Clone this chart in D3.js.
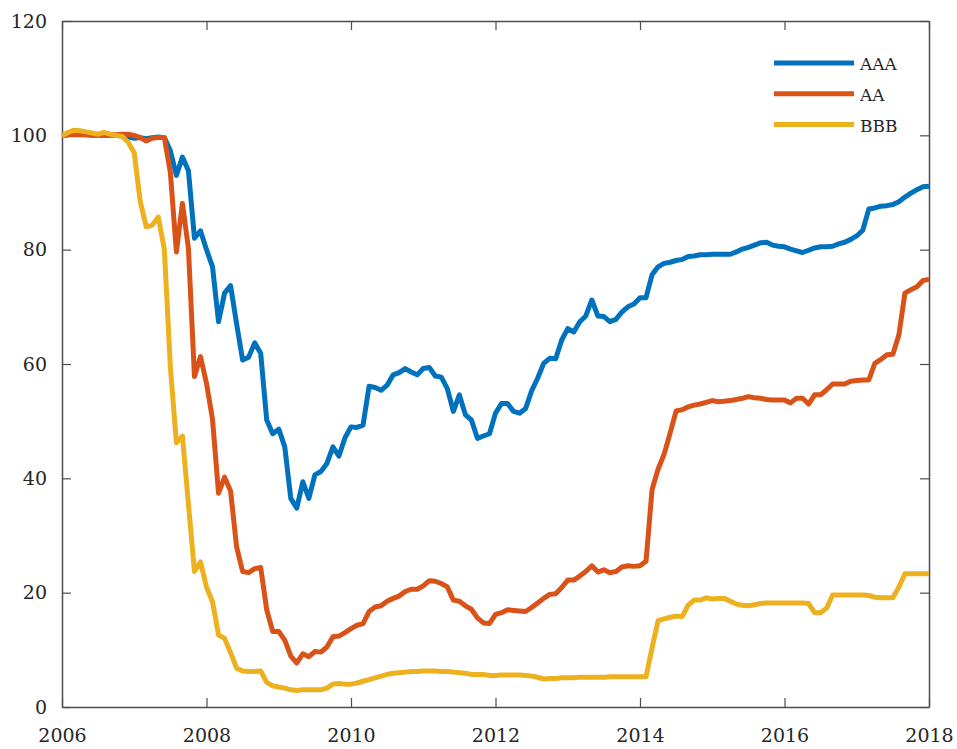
<!DOCTYPE html>
<html>
<head>
<meta charset="utf-8">
<script src="https://cdn.jsdelivr.net/npm/d3@7"></script>
<style>
	body { margin: 0; background: #fff; }
	svg { display: block; }
</style>
</head>
<body>
<svg width="957" height="749"></svg>
<script>
// monthly index values, Jan 2006 .. Jan 2018
const startYear = 2006;
const aaa = [
	99.9, 100.1, 100.2, 100.2, 100.1, 100.0, 100.0, 100.0, 100.0, 100.0, 99.9, 99.7,
	99.5, 99.6, 99.4, 99.6, 99.7, 99.6, 97.3, 93.0, 96.2, 93.8, 82.0, 83.3,
	80.0, 77.0, 67.4, 72.4, 73.7, 67.0, 60.7, 61.2, 63.7, 61.9, 50.2, 47.8,
	48.6, 45.5, 36.5, 34.8, 39.4, 36.5, 40.6, 41.2, 42.6, 45.5, 43.9, 47.1,
	49.0, 48.9, 49.3, 56.1, 55.9, 55.4, 56.3, 58.1, 58.5, 59.2, 58.6, 58.1,
	59.2, 59.4, 57.9, 57.7, 55.7, 51.7, 54.6, 51.1, 50.2, 47.0, 47.4, 47.8,
	51.4, 53.1, 53.1, 51.7, 51.4, 52.2, 55.3, 57.5, 60.1, 61.0, 60.9, 64.2,
	66.2, 65.6, 67.4, 68.4, 71.2, 68.4, 68.3, 67.4, 67.8, 69.1, 70.0, 70.5,
	71.6, 71.6, 75.6, 77.0, 77.6, 77.8, 78.1, 78.3, 78.8, 78.9, 79.1, 79.1,
	79.2, 79.2, 79.2, 79.2, 79.6, 80.1, 80.4, 80.8, 81.2, 81.3, 80.8, 80.6,
	80.5, 80.1, 79.8, 79.5, 79.9, 80.3, 80.5, 80.5, 80.6, 81.0, 81.3, 81.8,
	82.4, 83.4, 87.1, 87.3, 87.6, 87.7, 87.9, 88.4, 89.2, 89.9, 90.5, 91.0,
	91.1
];
const aa = [
	100.0, 100.1, 100.1, 100.1, 100.1, 100.1, 100.1, 100.1, 100.1, 100.1, 100.2, 100.2,
	100.0, 99.6, 99.0, 99.5, 99.6, 99.6, 93.5, 79.6, 88.1, 80.2, 57.8, 61.3,
	56.6, 50.3, 37.4, 40.2, 37.8, 28.0, 23.7, 23.5, 24.2, 24.4, 17.0, 13.2,
	13.2, 11.7, 8.9, 7.7, 9.3, 8.8, 9.7, 9.6, 10.5, 12.3, 12.4, 13.0,
	13.7, 14.3, 14.6, 16.7, 17.5, 17.7, 18.5, 19.0, 19.4, 20.2, 20.6, 20.6,
	21.2, 22.1, 22.0, 21.6, 21.0, 18.7, 18.5, 17.7, 17.1, 15.6, 14.7, 14.6,
	16.2, 16.5, 17.0, 16.9, 16.8, 16.7, 17.4, 18.2, 19.0, 19.7, 19.8, 20.9,
	22.2, 22.2, 22.9, 23.7, 24.7, 23.6, 24.0, 23.5, 23.7, 24.5, 24.7, 24.6,
	24.7, 25.5, 38.0, 41.6, 44.2, 47.9, 51.8, 52.0, 52.5, 52.8, 53.0, 53.3,
	53.6, 53.4, 53.5, 53.6, 53.8, 54.0, 54.3, 54.1, 54.0, 53.8, 53.7, 53.7,
	53.7, 53.2, 54.0, 54.0, 53.0, 54.6, 54.6, 55.5, 56.5, 56.5, 56.5, 57.0,
	57.1, 57.2, 57.2, 60.1, 60.8, 61.6, 61.7, 65.1, 72.4, 73.0, 73.5, 74.6,
	74.8
];
const bbb = [
	99.9, 100.5, 100.9, 100.8, 100.6, 100.4, 100.2, 100.5, 100.2, 100.0, 99.8, 98.8,
	96.9, 88.4, 84.0, 84.3, 85.7, 80.0, 59.5, 46.2, 47.4, 35.5, 23.7, 25.4,
	21.0, 18.4, 12.6, 12.0, 9.5, 6.8, 6.3, 6.2, 6.2, 6.3, 4.3, 3.7,
	3.5, 3.3, 3.0, 2.9, 3.0, 3.0, 3.0, 3.0, 3.3, 4.0, 4.1, 4.0,
	4.0, 4.2, 4.5, 4.8, 5.1, 5.4, 5.7, 5.9, 6.0, 6.1, 6.2, 6.2,
	6.3, 6.3, 6.3, 6.2, 6.2, 6.1, 6.0, 5.9, 5.7, 5.7, 5.7, 5.5,
	5.5, 5.6, 5.6, 5.6, 5.6, 5.5, 5.4, 5.2, 4.9, 5.0, 5.0, 5.1,
	5.1, 5.1, 5.2, 5.2, 5.2, 5.2, 5.2, 5.3, 5.3, 5.3, 5.3, 5.3,
	5.3, 5.3, 10.3, 15.1, 15.4, 15.7, 15.9, 15.8, 17.8, 18.7, 18.7, 19.1,
	18.9, 19.0, 19.0, 18.5, 18.0, 17.8, 17.7, 17.9, 18.1, 18.2, 18.2, 18.2,
	18.2, 18.2, 18.2, 18.2, 18.1, 16.5, 16.5, 17.3, 19.6, 19.6, 19.6, 19.6,
	19.6, 19.6, 19.5, 19.2, 19.1, 19.1, 19.1, 21.0, 23.3, 23.3, 23.3, 23.3,
	23.3
];
const seriesNames = ["AAA", "AA", "BBB"];
const seriesColors = ["#0072BD", "#D95319", "#EDB120"];
const xTicks = [2006, 2008, 2010, 2012, 2014, 2016, 2018];
const yTicks = [0, 20, 40, 60, 80, 100, 120];

const series = [aaa, aa, bbb].map((vals, i) => ({
	name: seriesNames[i],
	color: seriesColors[i],
	values: vals.map((v, m) => ({ t: startYear + m / 12, v }))
}));

const svg = d3.select("svg");
const margin = { left: 62, right: 28, top: 21, bottom: 42 };
const width = 957 - margin.left - margin.right;
const height = 749 - margin.top - margin.bottom;

const x = d3.scaleLinear().domain([2006, 2018]).range([0, width]);
const y = d3.scaleLinear().domain([0, 120]).range([height, 0]);

const g = svg.append("g").attr("transform", `translate(${margin.left},${margin.top})`);

const tickLen = 9;
const axisColor = "#4d4d4d";
const labelFont = "DejaVu Serif";

// bottom + left axes with labels, ticks pointing inward
const xAxis = g.append("g")
	.attr("transform", `translate(0,${height})`)
	.call(d3.axisBottom(x).tickValues(xTicks).tickFormat(d3.format("d")).tickSizeInner(-tickLen).tickSizeOuter(0).tickPadding(22));
const yAxis = g.append("g")
	.call(d3.axisLeft(y).tickValues(yTicks).tickSizeInner(-tickLen).tickSizeOuter(0).tickPadding(15));
// top + right axes, ticks only
const xTop = g.append("g")
	.call(d3.axisTop(x).tickValues(xTicks).tickFormat("").tickSizeInner(-tickLen).tickSizeOuter(0));
const yRight = g.append("g")
	.attr("transform", `translate(${width},0)`)
	.call(d3.axisRight(y).tickValues(yTicks).tickFormat("").tickSizeInner(-tickLen).tickSizeOuter(0));

[xAxis, yAxis, xTop, yRight].forEach(a => {
	a.attr("font-family", labelFont).attr("font-size", 19);
	a.selectAll("path.domain").attr("stroke", axisColor).attr("stroke-width", 1.5);
	a.selectAll(".tick line").attr("stroke", axisColor).attr("stroke-width", 1.2);
	a.selectAll(".tick text").attr("fill", "#262626");
});
xAxis.selectAll(".tick text").attr("dy", "0.71em");

const line = d3.line()
	.x(d => x(d.t))
	.y(d => y(d.v));

g.append("g")
	.selectAll("path")
	.data(series)
	.join("path")
	.attr("fill", "none")
	.attr("stroke", d => d.color)
	.attr("stroke-width", 5)
	.attr("stroke-linejoin", "round")
	.attr("d", d => line(d.values));

// legend
const legend = g.append("g")
	.attr("transform", `translate(${712},${42})`);

const item = legend.selectAll("g")
	.data(series)
	.join("g")
	.attr("transform", (d, i) => `translate(0,${i * 30.8})`);

item.append("line")
	.attr("x1", 0)
	.attr("x2", 80)
	.attr("stroke", d => d.color)
	.attr("stroke-width", 5);

item.append("text")
	.attr("x", 86)
	.attr("y", 7)
	.attr("font-family", "DejaVu Serif")
	.attr("font-size", 17)
	.attr("fill", "#262626")
	.text(d => d.name);
</script>
</body>
</html>
